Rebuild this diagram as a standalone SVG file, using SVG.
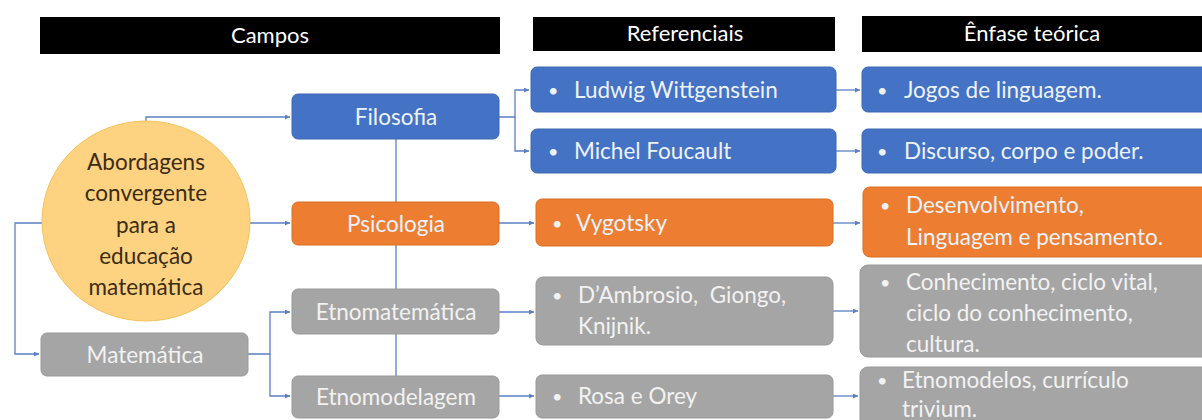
<svg xmlns="http://www.w3.org/2000/svg" width="1202" height="420" viewBox="0 0 1202 420">
<defs>
<marker id="arr" viewBox="0 0 6 6" refX="6" refY="3" markerWidth="5" markerHeight="5" orient="auto" markerUnits="userSpaceOnUse">
<path d="M0,0 L6,3 L0,6 z" fill="#5a7fc4"/>
</marker>
<style>
text{font-family:Lato,"Liberation Sans",sans-serif;font-size:22.5px;}
.hd{fill:#000;}
.ht{fill:#fff;text-anchor:middle;font-size:22px;}
.blue{fill:#4472c4;stroke:#3d68b3;stroke-width:1;}
.orange{fill:#ed7d31;stroke:#d86e27;stroke-width:1;}
.gray{fill:#a5a5a5;stroke:#999;stroke-width:1;}
.wt{fill:#eef2fa;}
.gt{fill:#f2f2f2;}
.c{text-anchor:middle;}
.bl{font-size:18px;}
.pre{white-space:pre;}
.con{fill:none;stroke:#5a7fc4;stroke-width:1.3;}
.ct{fill:#3b2c12;text-anchor:middle;font-size:22.5px;}
</style>
</defs>
<rect width="1202" height="420" fill="#fff"/>
<g id="headers">
<rect class="hd" x="40" y="17" width="460" height="37"/>
<text class="ht" x="270" y="43">Campos</text>
<rect class="hd" x="533" y="17" width="302" height="34"/>
<text class="ht" x="685" y="41">Referenciais</text>
<rect class="hd" x="862" y="16" width="340" height="36"/>
<text class="ht" x="1032" y="41">Ênfase teórica</text>
</g>
<g id="connectors">
<path class="con" d="M146,122 V117 H290" marker-end="url(#arr)"/>
<path class="con" d="M250,223 H290" marker-end="url(#arr)"/>
<path class="con" d="M42,223 H15 V354 H39" marker-end="url(#arr)"/>
<path class="con" d="M248,354 H270 V312 H290" marker-end="url(#arr)"/>
<path class="con" d="M270,354 V396 H290" marker-end="url(#arr)"/>
<path class="con" d="M396,139 V376"/>
<path class="con" d="M499,117 H515 V90 H529" marker-end="url(#arr)"/>
<path class="con" d="M515,117 V151 H529" marker-end="url(#arr)"/>
<path class="con" d="M499,223 H534" marker-end="url(#arr)"/>
<path class="con" d="M499,312 H534" marker-end="url(#arr)"/>
<path class="con" d="M499,396 H534" marker-end="url(#arr)"/>
<path class="con" d="M836,90 H860" marker-end="url(#arr)"/>
<path class="con" d="M836,151 H860" marker-end="url(#arr)"/>
<path class="con" d="M833,223 H860" marker-end="url(#arr)"/>
<path class="con" d="M833,311 H858" marker-end="url(#arr)"/>
<path class="con" d="M833,396 H858" marker-end="url(#arr)"/>
</g>
<g id="center">
<ellipse cx="146" cy="221" rx="104" ry="100" fill="#fdd382" stroke="#f4c25c" stroke-width="1"/>
<text class="ct" x="146" y="170">Abordagens</text>
<text class="ct" x="146" y="201">convergente</text>
<text class="ct" x="146" y="233">para a</text>
<text class="ct" x="146" y="264">educação</text>
<text class="ct" x="146" y="295">matemática</text>
</g>
<g id="filosofia">
<rect class="blue" x="292" y="94" width="207" height="45" rx="6"/>
<text class="wt c" x="396" y="125">Filosofia</text>
</g>
<g id="psicologia">
<rect class="orange" x="292" y="202" width="207" height="43" rx="6"/>
<text class="wt c" x="396" y="232">Psicologia</text>
</g>
<g id="etnomatematica">
<rect class="gray" x="292" y="289" width="207" height="45" rx="6"/>
<text class="gt c" x="396" y="320">Etnomatemática</text>
</g>
<g id="etnomodelagem">
<rect class="gray" x="292" y="376" width="207" height="42" rx="6"/>
<text class="gt c" x="396" y="405">Etnomodelagem</text>
</g>
<g id="matematica">
<rect class="gray" x="41" y="333" width="207" height="43" rx="6"/>
<text class="gt c" x="145" y="363">Matemática</text>
</g>
<g id="wittgenstein">
<rect class="blue" x="531" y="67" width="305" height="45" rx="6"/>
<text class="wt bl" x="548" y="97">•</text>
<text class="wt" x="574" y="98">Ludwig Wittgenstein</text>
</g>
<g id="foucault">
<rect class="blue" x="531" y="129" width="305" height="44" rx="6"/>
<text class="wt bl" x="548" y="158">•</text>
<text class="wt" x="574" y="159">Michel Foucault</text>
</g>
<g id="jogos">
<rect class="blue" x="862" y="67" width="350" height="45" rx="6"/>
<text class="wt bl" x="877" y="97">•</text>
<text class="wt" x="904" y="98">Jogos de linguagem.</text>
</g>
<g id="discurso">
<rect class="blue" x="862" y="129" width="350" height="44" rx="6"/>
<text class="wt bl" x="877" y="158">•</text>
<text class="wt" x="904" y="159">Discurso, corpo e poder.</text>
</g>
<g id="vygotsky">
<rect class="orange" x="536" y="199" width="297" height="47" rx="6"/>
<text class="wt bl" x="552" y="230">•</text>
<text class="wt" x="576" y="231">Vygotsky</text>
</g>
<g id="desenvolvimento">
<rect class="orange" x="863" y="187" width="350" height="70" rx="7"/>
<text class="wt bl" x="880" y="212">•</text>
<text class="wt" x="906" y="213">Desenvolvimento,</text>
<text class="wt" x="906" y="245">Linguagem e pensamento.</text>
</g>
<g id="dambrosio">
<rect class="gray" x="536" y="277" width="297" height="68" rx="7"/>
<text class="gt bl" x="552" y="302">•</text>
<text class="gt pre" x="578" y="303">D’Ambrosio,  Giongo,</text>
<text class="gt" x="578" y="334">Knijnik.</text>
</g>
<g id="conhecimento">
<rect class="gray" x="860" y="265" width="352" height="92" rx="8"/>
<text class="gt bl" x="880" y="289">•</text>
<text class="gt" x="906" y="290">Conhecimento, ciclo vital,</text>
<text class="gt" x="906" y="321">ciclo do conhecimento,</text>
<text class="gt" x="906" y="352">cultura.</text>
</g>
<g id="rosa">
<rect class="gray" x="536" y="375" width="297" height="43" rx="6"/>
<text class="gt bl" x="552" y="403">•</text>
<text class="gt" x="578" y="404">Rosa e Orey</text>
</g>
<g id="etnomodelos">
<rect class="gray" x="860" y="367" width="352" height="70" rx="8"/>
<text class="gt bl" x="877" y="387">•</text>
<text class="gt" x="902" y="388">Etnomodelos, currículo</text>
<text class="gt" x="902" y="417">trivium.</text>
</g>
</svg>
